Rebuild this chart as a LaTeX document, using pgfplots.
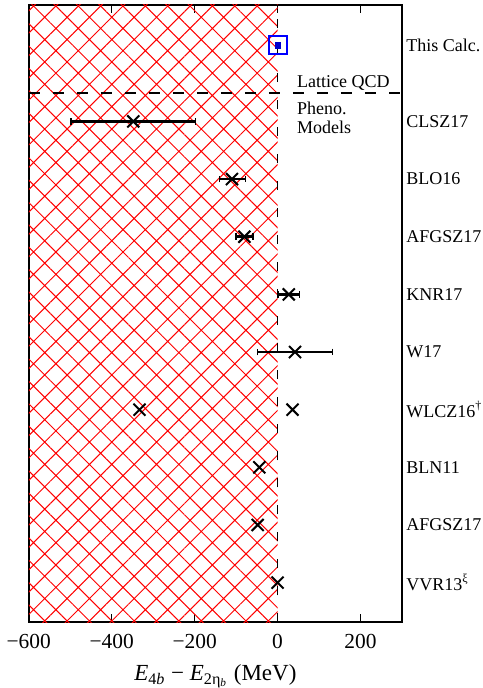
\documentclass[border=0pt]{standalone}
\usepackage{fontspec}
\setmainfont{Liberation Serif}
\usepackage{pgfplots}
\pgfplotsset{compat=1.18}
\usepackage{pgfplotstable}
\usetikzlibrary{patterns.meta}

\pgfplotstableread{
x y exm exp
-348 8 150 150
-110 7 30 33
-80 6 21 21
27 5 26 26
42 4 90 90
}\errdata
\pgfplotstableread{
x y
-333 3
36 3
-44 2
-48 1
0 0
}\plaindata

\begin{document}
\begin{tikzpicture}
\begin{axis}[
  scale only axis, width=186.5pt, height=308.5pt,
  xmin=-600, xmax=300, ymin=-0.69, ymax=10.02,
  axis line style={line width=1pt},
  xtick={-600,-400,-200,0,200},
  xticklabels={−600,−400,−200,0,200},
  xtick pos=both, tick align=inside,
  major tick length=4pt,
  x tick style={line width=0.6pt, black},
  ytick={0,1,2,3,4,5,6,7,8,9.32},
  yticklabels={VVR13\textsuperscript{ξ}, AFGSZ17, BLN11, WLCZ16\textsuperscript{†}, W17, KNR17, AFGSZ17, BLO16, CLSZ17, This Calc.},
  yticklabel pos=right,
  ytick pos=right,
  y tick style={draw=none},
  yticklabel style={font=\fontsize{9}{10}\selectfont, anchor=west, inner sep=0pt, xshift=2pt},
  xticklabel style={font=\fontsize{10.7}{12}\selectfont, yshift=-2.5pt},
  xlabel={{\itshape E}\textsubscript{4\textit{b}}\hspace{0.25em}−\hspace{0.25em}{\itshape E}\textsubscript{2η\textsubscript{\textit{b}}} (MeV)},
  xlabel style={font=\fontsize{11.5}{13}\selectfont, inner sep=0pt, yshift=-4.5pt},
  clip=true,
]
\addplot[draw=none, pattern={Hatch[angle=45, distance=7.9pt, line width=0.5pt]}, pattern color=red] coordinates {(-600,-1) (0,-1) (0,11) (-600,11)} -- cycle;
\addplot[black, line width=0.5pt, dash pattern=on 4.5pt off 9pt] coordinates {(0,-0.69) (0,10.02)};
\addplot[black, line width=1pt, dash pattern=on 5.5pt off 6.5pt] coordinates {(-600,8.5) (300,8.5)};
\addplot[only marks, mark=x, mark size=4.25pt, black, line width=1pt,
  error bars/.cd, x dir=both, x explicit,
  error bar style={line width=1.3pt, solid},
  error mark=|,
  error mark options={black, mark size=1.7pt, line width=0.8pt}]
  table[x=x, y=y, x error minus=exm, x error plus=exp] {\errdata};
\addplot[only marks, mark=x, mark size=4.25pt, black, line width=1pt] table[x=x, y=y] {\plaindata};
\addplot[only marks, mark=square, mark size=4.5pt, blue, line width=1pt] coordinates {(1,9.32)};
\addplot[only marks, mark=square*, mark size=1.3pt, blue!80!black] coordinates {(1,9.32)};
\node[anchor=west, font=\fontsize{9}{10}\selectfont, inner sep=0pt] at (axis cs:46,8.66) {Lattice QCD};
\node[anchor=west, align=left, font=\fontsize{9}{9.2}\selectfont, inner sep=0pt] at (axis cs:46,8.06) {Pheno.\\Models};
\end{axis}
\path ([yshift=2.5pt]current axis.north);
\end{tikzpicture}
\end{document}
